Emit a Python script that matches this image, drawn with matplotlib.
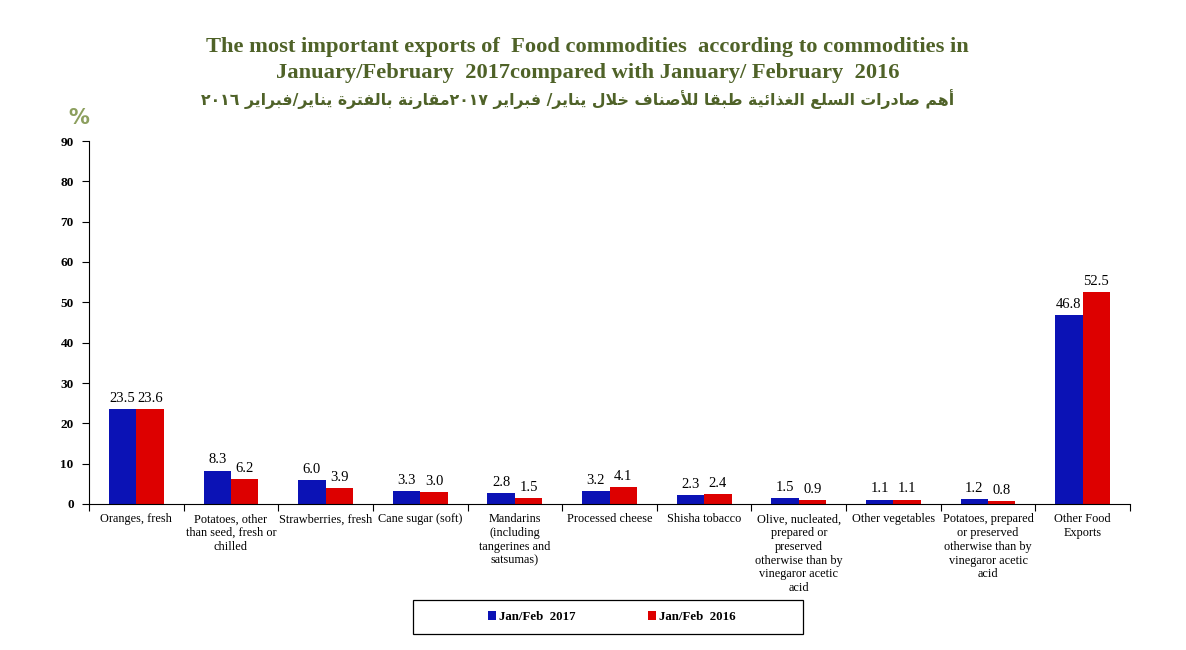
import re
import matplotlib
matplotlib.use("Agg")
import matplotlib.pyplot as plt
from matplotlib.patches import Rectangle

categories = [
    "Oranges, fresh",
    "Potatoes, other\nthan seed, fresh or\nchilled",
    "Strawberries, fresh",
    "Cane sugar (soft)",
    "Mandarins\n(including\ntangerines and\nsatsumas)",
    "Processed cheese",
    "Shisha tobacco",
    "Olive, nucleated,\nprepared or\npreserved\notherwise than by\nvinegaror acetic\nacid",
    "Other vegetables",
    "Potatoes, prepared\nor preserved\notherwise than by\nvinegaror acetic\nacid",
    "Other Food\nExports",
]
values_2017 = [23.5, 8.3, 6.0, 3.3, 2.8, 3.2, 2.3, 1.5, 1.1, 1.2, 46.8]
values_2016 = [23.6, 6.2, 3.9, 3.0, 1.5, 4.1, 2.4, 0.9, 1.1, 0.8, 52.5]
series_names = ["Jan/Feb  2017", "Jan/Feb  2016"]
yticks = [0, 10, 20, 30, 40, 50, 60, 70, 80, 90]

title_line1 = "The most important exports of  Food commodities  according to commodities in"
title_line2 = "January/February  2017compared with January/ February  2016"
title_ar = "أهم صادرات السلع الغذائية طبقا للأصناف خلال يناير/ فبراير ٢٠١٧مقارنة بالفترة يناير/فبراير ٢٠١٦"

# --- minimal Arabic shaping for matplotlib (no complex text layout) ---
DUAL = {'ئ': 0xFE89, 'ب': 0xFE8F, 'ت': 0xFE95, 'ث': 0xFE99, 'ج': 0xFE9D, 'ح': 0xFEA1,
        'خ': 0xFEA5, 'س': 0xFEB1, 'ش': 0xFEB5, 'ص': 0xFEB9, 'ض': 0xFEBD, 'ط': 0xFEC1,
        'ظ': 0xFEC5, 'ع': 0xFEC9, 'غ': 0xFECD, 'ف': 0xFED1, 'ق': 0xFED5, 'ك': 0xFED9,
        'ل': 0xFEDD, 'م': 0xFEE1, 'ن': 0xFEE5, 'ه': 0xFEE9, 'ي': 0xFEF1}
RIGHT = {'آ': 0xFE81, 'أ': 0xFE83, 'ؤ': 0xFE85, 'إ': 0xFE87, 'ا': 0xFE8D, 'ة': 0xFE93,
         'د': 0xFEA9, 'ذ': 0xFEAB, 'ر': 0xFEAD, 'ز': 0xFEAF, 'و': 0xFEED, 'ى': 0xFEEF}
LAMALEF = {'آ': 0xFEF5, 'أ': 0xFEF7, 'إ': 0xFEF9, 'ا': 0xFEFB}
LETTERS = set(DUAL) | set(RIGHT)


def shape_arabic(s):
    out = []
    i, n = 0, len(s)
    while i < n:
        c = s[i]
        prev = s[i - 1] if i > 0 else ''
        jp = prev in DUAL
        if c == 'ل' and i + 1 < n and s[i + 1] in LAMALEF:
            code = LAMALEF[s[i + 1]]
            out.append(chr(code + 1 if jp else code))
            i += 2
            continue
        nxt = s[i + 1] if i + 1 < n else ''
        if c in DUAL:
            jn = nxt in LETTERS
            base = DUAL[c]
            if jp and jn:
                out.append(chr(base + 3))
            elif jp:
                out.append(chr(base + 1))
            elif jn:
                out.append(chr(base + 2))
            else:
                out.append(chr(base))
        elif c in RIGHT:
            base = RIGHT[c]
            out.append(chr(base + 1 if jp else base))
        else:
            out.append(c)
        i += 1
    vis = ''.join(out)[::-1]
    vis = re.sub(r'[0-9\u0660-\u0669]+', lambda m: m.group(0)[::-1], vis)
    return vis


W, H = 1186, 650
fig = plt.figure(figsize=(W / 100, H / 100), dpi=100)
ax = fig.add_axes([89 / W, 1 - 504 / H, (1130 - 89) / W, (504 - 141) / H])

serif = "Liberation Serif"
blue = "#0B12B5"
red = "#DD0000"
olive = "#4F6228"

n = len(categories)
xs = list(range(n))
bw = 0.29
b1 = ax.bar([x - bw / 2 for x in xs], values_2017, width=bw, color=blue, label=series_names[0])
b2 = ax.bar([x + bw / 2 for x in xs], values_2016, width=bw, color=red, label=series_names[1])

for bars, vals in ((b1, values_2017), (b2, values_2016)):
    for rect, v in zip(bars, vals):
        ax.annotate(f"{v:.1f}", (rect.get_x() + rect.get_width() / 2, v),
                    xytext=(0, 3), textcoords="offset points", ha="center", va="bottom",
                    fontsize=10.5, family=serif, color="black")

ax.set_xlim(-0.5, n - 0.5)
ax.set_ylim(0, 90)
ax.set_yticks(yticks)
ax.set_yticklabels([str(t) for t in yticks], fontsize=9.5, fontweight="bold", family=serif)
ax.tick_params(axis="y", length=5, width=0.8, pad=6)

ax.set_xticks([x - 0.5 for x in range(n + 1)])
ax.set_xticklabels([])
ax.tick_params(axis="x", length=5, width=0.8, direction="out")
for x, lab in zip(xs, categories):
    ax.text(x, -2.3, lab, ha="center", va="top", fontsize=8.8, family=serif,
            linespacing=1.2, transform=ax.transData)

for sp in ("top", "right"):
    ax.spines[sp].set_visible(False)
ax.spines["left"].set_linewidth(0.8)
ax.spines["bottom"].set_linewidth(0.8)

fig.text(587 / W, 1 - 47 / H, title_line1,
         ha="center", va="center", fontsize=16.2, fontweight="bold", family=serif, color=olive)
fig.text(588 / W, 1 - 73 / H, title_line2,
         ha="center", va="center", fontsize=16.2, fontweight="bold", family=serif, color=olive)
fig.text(578 / W, 1 - 99 / H, shape_arabic(title_ar),
         ha="center", va="center", fontsize=11.3, fontweight="bold", family="DejaVu Sans", color=olive)
fig.text(79 / W, 1 - 118 / H, "%", ha="center", va="center", fontsize=15, fontweight="bold",
         family="DejaVu Sans", color="#8C9F5E")

# legend box
fig.patches.append(Rectangle((413 / W, 1 - 634 / H), (803 - 413) / W, 34 / H,
                             transform=fig.transFigure, fill=False, edgecolor="black", lw=0.9))
fig.legend(handles=[b1, b2], labels=series_names, loc="center",
           bbox_to_anchor=(612 / W, 1 - 617 / H), ncol=2, frameon=False,
           prop={"family": serif, "weight": "bold", "size": 9.3},
           handlelength=0.6, handleheight=0.6, handletextpad=0.25, columnspacing=5.6)

fig.savefig("out.png", dpi=100)
